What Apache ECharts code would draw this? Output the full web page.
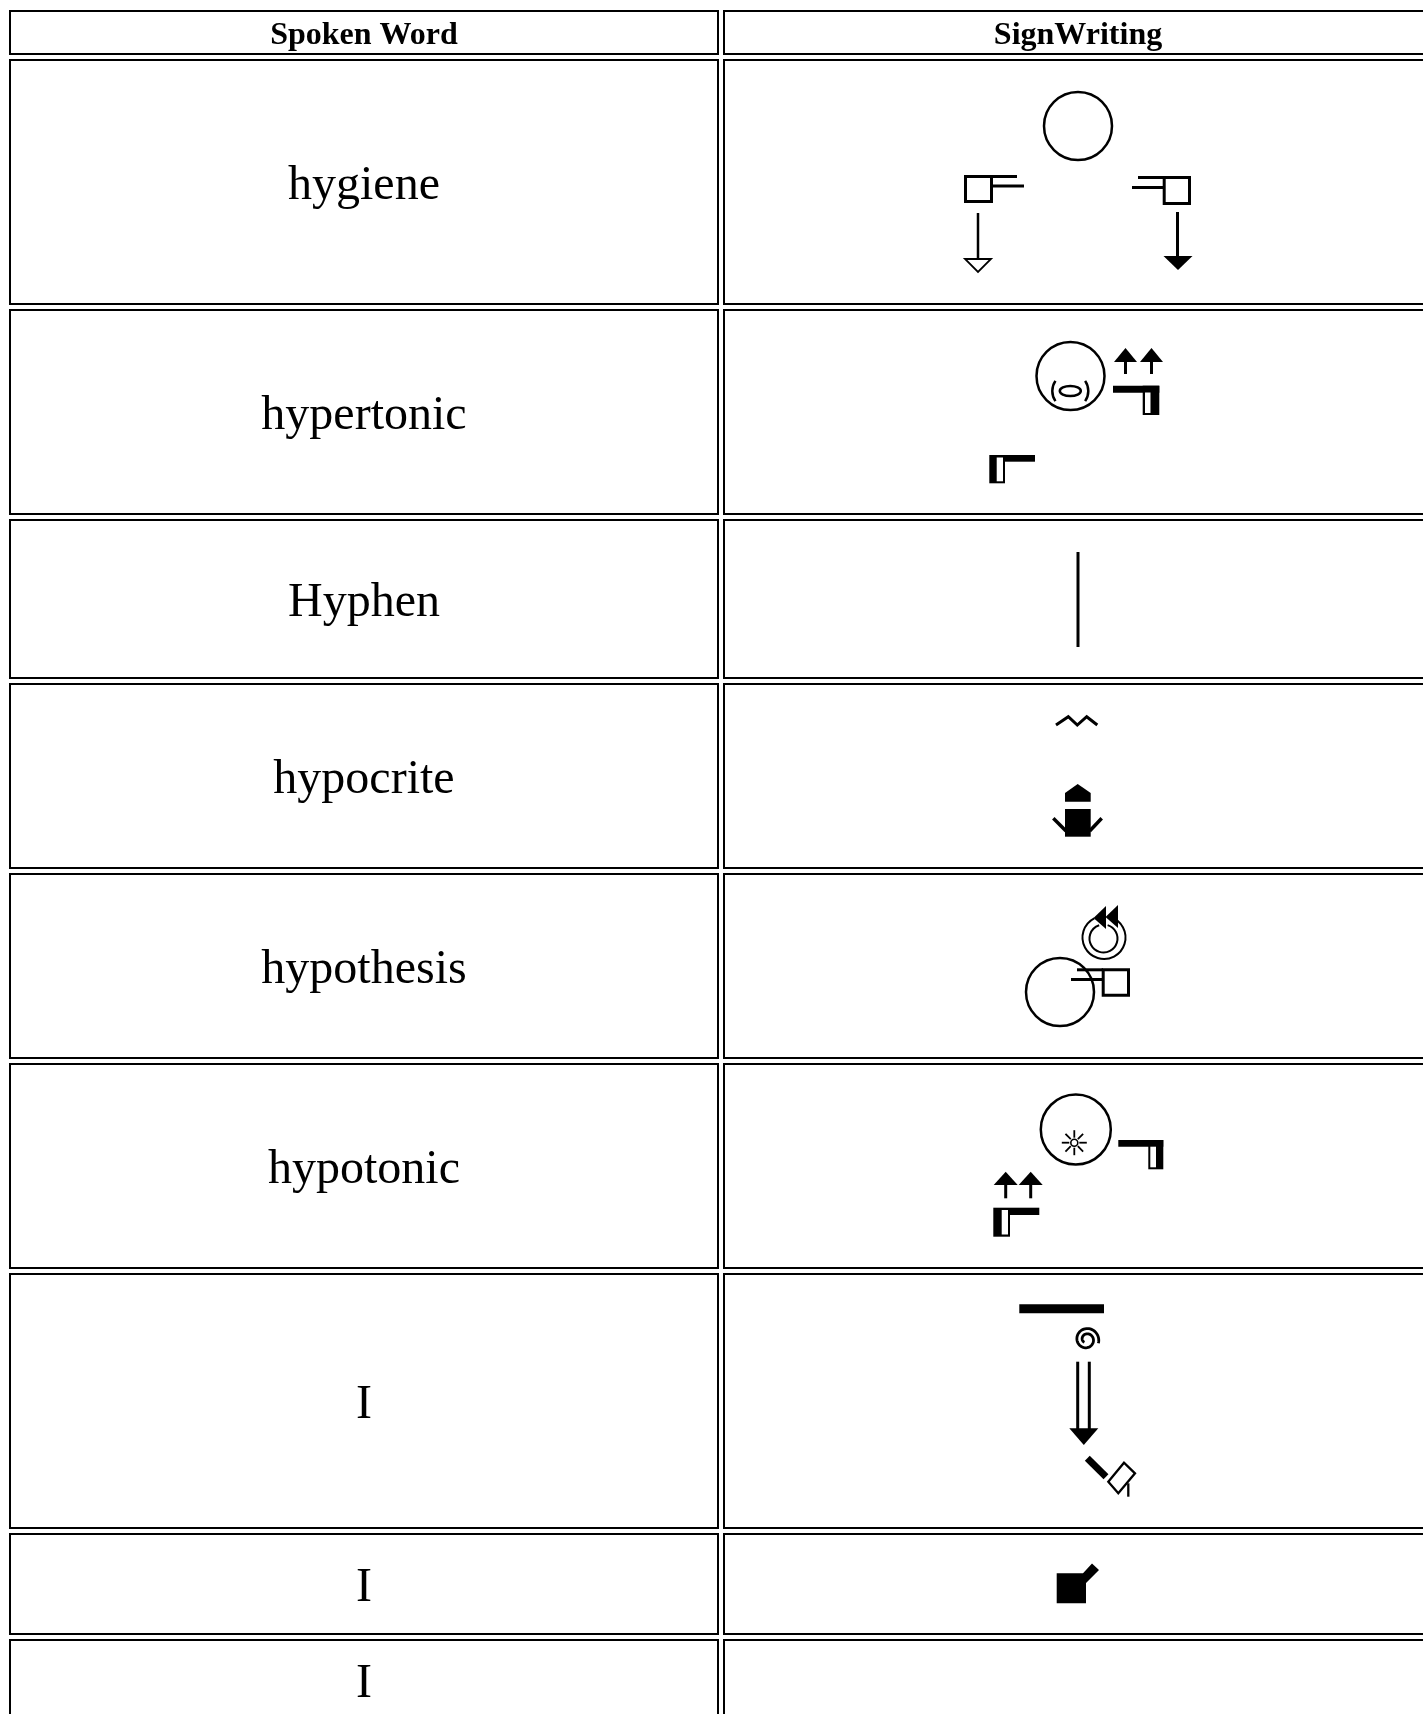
<!DOCTYPE html>
<html>
<head>
<meta charset="utf-8">
<script src="https://cdn.jsdelivr.net/npm/echarts@6/dist/echarts.min.js"></script>
<style>
html,body{margin:0;padding:0;background:#fff;}
#c{width:1423px;height:1714px;}
</style>
</head>
<body>
<div id="c"></div>
<script>
// ---- table content ----
const headers = ['Spoken Word', 'SignWriting'];
const words = ['hygiene', 'hypertonic', 'Hyphen', 'hypocrite', 'hypothesis', 'hypotonic', 'I', 'I', 'I'];

// ---- layout (outer edges of cells, px) ----
const colLeft = [9, 723];
const colRight = [719, 1433];
const headerTop = 10, headerBottom = 55;
const rowTops = [59, 309, 519, 683, 873, 1063, 1273, 1533, 1639];
const rowBottoms = [305, 515, 679, 869, 1059, 1269, 1529, 1635, 1721];

const K = '#000';
const FONT = '"Liberation Serif", "Times New Roman", serif';

function cellRect(x0, y0, x1, y1) {
  return {type: 'rect', shape: {x: x0 + 1, y: y0 + 1, width: x1 - x0 - 2, height: y1 - y0 - 2},
    style: {fill: '#fff', stroke: K, lineWidth: 2}};
}
function txt(s, x, y, size, weight) {
  return {type: 'text', x: x, y: y + size * 0.09, style: {text: s, fill: K, font: weight + ' ' + size + 'px ' + FONT,
    textAlign: 'center', textVerticalAlign: 'middle'}};
}
function L(x1, y1, x2, y2, w) {
  return {type: 'line', shape: {x1: x1, y1: y1, x2: x2, y2: y2}, style: {stroke: K, lineWidth: w || 3}};
}
function C(cx, cy, r, w) {
  return {type: 'circle', shape: {cx: cx, cy: cy, r: r}, style: {fill: 'none', stroke: K, lineWidth: w || 2.5}};
}
function R(x, y, w, h, fill) {
  return {type: 'rect', shape: {x: x, y: y, width: w, height: h}, style: {fill: fill || K}};
}
function SR(x, y, w, h, lw) {
  return {type: 'rect', shape: {x: x, y: y, width: w, height: h}, style: {fill: 'none', stroke: K, lineWidth: lw || 3}};
}
function P(pts, fill, stroke, lw) {
  return {type: 'polygon', shape: {points: pts},
    style: {fill: fill || K, stroke: stroke || null, lineWidth: lw || 0}};
}
function PL(pts, w) {
  return {type: 'polyline', shape: {points: pts}, style: {fill: 'none', stroke: K, lineWidth: w || 3, lineJoin: 'miter'}};
}
function A(cx, cy, r, a0, a1, w) {
  return {type: 'arc', shape: {cx: cx, cy: cy, r: r, startAngle: a0, endAngle: a1, clockwise: true},
    style: {fill: 'none', stroke: K, lineWidth: w || 2.5}};
}
function E(cx, cy, rx, ry, w) {
  return {type: 'ellipse', shape: {cx: cx, cy: cy, rx: rx, ry: ry}, style: {fill: 'none', stroke: K, lineWidth: w || 2.5}};
}
function upArrow(cx, headTop, headBase, stemBottom, halfW) {
  return [L(cx, headBase - 1, cx, stemBottom, 3),
    P([[cx - halfW, headBase], [cx + halfW, headBase], [cx, headTop]])];
}
function spiral(cx, cy, r0, r1, turns, phi, w) {
  const pts = [];
  const n = 90;
  for (let i = 0; i <= n; i++) {
    const t = i / n;
    const th = t * turns * 2 * Math.PI;
    const r = r0 + (r1 - r0) * t;
    pts.push([cx + r * Math.cos(th + phi), cy + r * Math.sin(th + phi)]);
  }
  return PL(pts, w);
}

// ---- SignWriting glyph pictures, one list per row ----
const glyphs = [
  // hygiene
  [
    C(1078, 126, 34, 2.5),
    SR(965.5, 176.5, 26, 25, 3), L(992, 176.5, 1017, 176.5, 3), L(992, 186, 1024, 186, 3),
    L(978, 213, 978, 259, 2.5), P([[965, 259], [991, 259], [978, 272]], '#fff', K, 1.8),
    SR(1164.2, 177.5, 25.3, 26, 3), L(1138, 177.5, 1164, 177.5, 3), L(1132, 187.5, 1164, 187.5, 3),
    L(1177.5, 212, 1177.5, 257, 3), P([[1163.5, 256], [1192.5, 256], [1178, 270]])
  ],
  // hypertonic
  [
    C(1070.5, 376, 34, 2.5),
    E(1070.3, 391, 10.5, 5, 2.5),
    A(1070.3, 391, 18, Math.PI - 0.6, Math.PI + 0.6, 2.5),
    A(1070.3, 391, 18, -0.6, 0.6, 2.5),
  ].concat(upArrow(1125.5, 348, 362, 374, 11.5), upArrow(1151.5, 348, 362, 374, 11.5), [
    R(1113, 385.7, 46.3, 7), R(1142.7, 385.7, 16.6, 29.3), R(1145, 392.5, 5.5, 20.5, '#fff'),
    R(989.3, 455, 15.7, 28.3), R(996.7, 457.5, 6.3, 23.8, '#fff'), R(1005, 455, 30, 6.7)
  ]),
  // Hyphen
  [L(1078, 552, 1078, 647, 3)],
  // hypocrite
  [
    PL([[1056, 725], [1068.3, 716.7], [1077.3, 725], [1086.7, 716.7], [1097.3, 725]], 3),
    P([[1077.7, 784], [1090.7, 793], [1090.7, 801.7], [1065, 801.7], [1065, 793]]),
    R(1065, 809, 25.7, 27.7),
    L(1053.3, 818.3, 1066, 831, 3.5), L(1101.7, 818.3, 1089.7, 831, 3.5)
  ],
  // hypothesis
  [
    C(1060, 992, 34, 2.5),
    SR(1103.2, 969.8, 25.3, 25.4, 3), L(1077, 969.8, 1103, 969.8, 3), L(1071, 979.5, 1103, 979.5, 3),
    A(1104, 937.5, 21.5, -0.9 - Math.PI / 2 + 1.2, Math.PI * 1.35, 2),
    A(1103.5, 938.5, 14, -0.9 - Math.PI / 2 + 1.2, Math.PI * 1.4, 2),
    P([[1093.5, 918], [1106, 906], [1106, 929]]),
    P([[1105.5, 917], [1118, 905], [1118, 928]])
  ],
  // hypotonic
  (function () {
    const g = [C(1075.8, 1129.5, 35, 2.5), C(1074.3, 1142.7, 3.5, 1.6)];
    for (let i = 0; i < 8; i++) {
      const a = i * Math.PI / 4;
      g.push(L(1074.3 + 5 * Math.cos(a), 1142.7 + 5 * Math.sin(a), 1074.3 + 12.5 * Math.cos(a), 1142.7 + 12.5 * Math.sin(a), 1.8));
    }
    return g.concat([
      R(1118.3, 1140, 45, 6.7), R(1148.3, 1140, 15, 29.3), R(1150.3, 1146.7, 5.7, 20.6, '#fff')
    ], upArrow(1005.7, 1171.7, 1185, 1198.3, 12), upArrow(1030.7, 1171.7, 1185, 1198.3, 12), [
      R(993.3, 1207.7, 16.7, 29), R(1001.7, 1210, 6.3, 24.5, '#fff'), R(1010, 1207.7, 29.3, 7.3)
    ]);
  })(),
  // I
  [
    R(1019.3, 1304.3, 84.7, 9),
    spiral(1086.5, 1339.5, 3.5, 12.5, 1.7, Math.PI * 0.7, 2.8),
    L(1077.7, 1361.7, 1077.7, 1432, 3), L(1089.3, 1361.7, 1089.3, 1432, 3),
    P([[1069.3, 1428.3], [1098.3, 1428.3], [1083.8, 1445]]),
    L(1087.3, 1458.3, 1106, 1476.7, 7),
    P([[1108.3, 1481.7], [1124, 1462.7], [1135, 1473.3], [1118.3, 1493.3]], '#fff', K, 2.3),
    L(1128.3, 1483.3, 1128.3, 1496.7, 2.3)
  ],
  // I
  [
    P([[1056.7, 1573.3], [1083, 1573.3], [1092, 1563.5], [1099, 1570], [1086, 1583], [1086, 1603.3], [1056.7, 1603.3]])
  ],
  // I
  []
];

// ---- build graphic ----
const elements = [];
// header row
for (let c = 0; c < 2; c++) {
  elements.push(cellRect(colLeft[c], headerTop, colRight[c], headerBottom));
  elements.push(txt(headers[c], (colLeft[c] + colRight[c]) / 2, (headerTop + headerBottom) / 2, 32, 'bold'));
}
// body rows
words.forEach(function (w, i) {
  const t = rowTops[i], b = rowBottoms[i];
  elements.push(cellRect(colLeft[0], t, colRight[0], b));
  elements.push(cellRect(colLeft[1], t, colRight[1], b));
  elements.push(txt(w, (colLeft[0] + colRight[0]) / 2, (t + b) / 2, 48, 'normal'));
  glyphs[i].forEach(function (g) { elements.push(g); });
});

const chart = echarts.init(document.getElementById('c'), null, {renderer: 'canvas'});
chart.setOption({
  backgroundColor: '#fff',
  animation: false,
  graphic: {elements: elements}
});
</script>
</body>
</html>
